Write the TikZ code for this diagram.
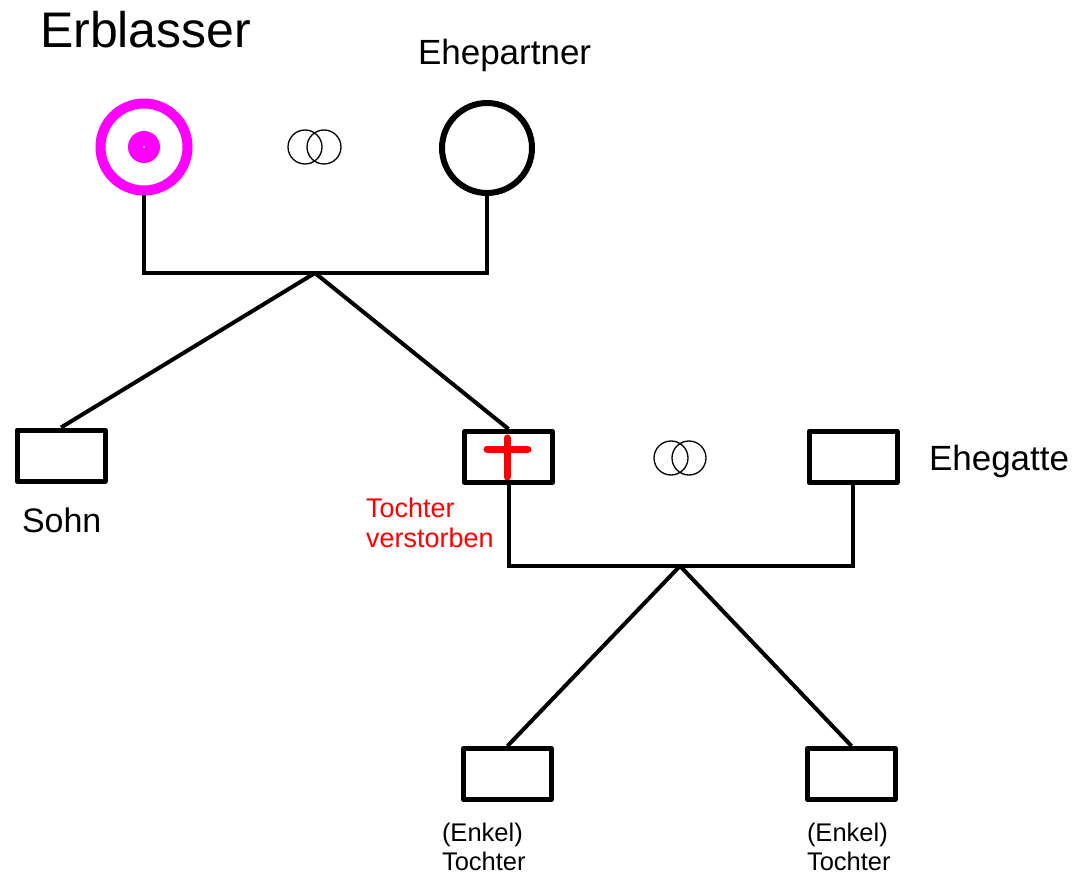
\documentclass[tikz,border=0pt]{standalone}
\usepackage{fontspec}
\setmainfont{Liberation Sans}
\definecolor{erblmag}{RGB}{255,0,255}

\begin{document}
\begin{tikzpicture}
[x=1pt,y=-1pt,line width=4pt,
 box/.style={rectangle,draw,line width=5pt,line join=round,minimum width=88pt,minimum height=51pt,inner sep=0pt},
 txt/.style={inner sep=0pt,anchor=base west,align=left}]
  \useasboundingbox (0,0) rectangle (1077,877);

  \node (erbl) at (144,147) [circle,draw=erblmag,line width=10pt,minimum size=87pt,inner sep=0pt] {};
  \node (erbldot) at (144,147) [circle,fill=erblmag,minimum size=32pt,inner sep=0pt] {};
  \fill[white] (erbldot) circle (1.2pt);
  \node (ehep) at (487,148) [circle,draw,line width=6pt,minimum size=90pt,inner sep=0pt] {};

  \node (sohn) at (61,455.5) [box] {};
  \node (toch) at (508.5,457) [box] {};
  \node (gatte) at (853,457) [box] {};
  \node (enkel1) at (507.5,774) [box] {};
  \node (enkel2) at (851.5,774) [box] {};

  % Ehe-Ringe
  \draw[line width=1.3pt] (305,147) circle (17pt) (324,147) circle (17pt);
  \draw[line width=1.3pt] (671,458) circle (17pt) (689,458) circle (17pt);

  % Kreuz
  \draw[red,line width=7pt,line cap=round] (507,438) -- (507,477) (487,449) -- (528,449);

  \coordinate (j1) at (315,273);
  \coordinate (j2) at (680,566);

  \draw (erbl.south) |- (j1) -| (ehep.south);
  \draw (toch.south) |- (j2) -| (gatte.south);
  \foreach \from/\to in {j1/sohn,j1/toch,j2/enkel1,j2/enkel2}
    \draw (\from) -- (\to.north);

  \node (erbltxt) [txt,font=\fontsize{50}{60}\selectfont] at (38,48) {Erblasser};
  \node (eheptxt) [txt,font=\fontsize{35}{42}\selectfont] at (416,65) {Ehepartner};
  \node (sohntxt) [txt,font=\fontsize{34}{40}\selectfont] at (20,532) {Sohn};
  \node (gattetxt) [txt,font=\fontsize{35}{40}\selectfont] at (927,470) {Ehegatte};
  \node (tochtxt) [txt,red,font=\fontsize{27}{30}\selectfont] at (364,547) {Tochter\\verstorben};
  \node (enkel1txt) [txt,font=\fontsize{25.5}{29}\selectfont] at (440,870) {(Enkel)\\Tochter};
  \node (enkel2txt) [txt,font=\fontsize{25.5}{29}\selectfont] at (805,870) {(Enkel)\\Tochter};
\end{tikzpicture}
\end{document}
